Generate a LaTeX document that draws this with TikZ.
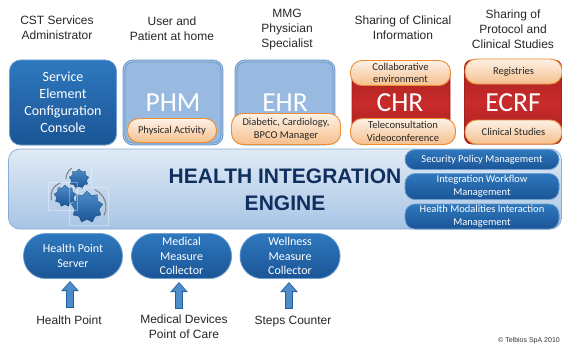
\documentclass[tikz,border=0pt]{standalone}
\usepackage{fontspec}
\setmainfont{Liberation Sans}
\newfontfamily\figBoxFont{Carlito}
\usetikzlibrary{arrows.meta, shapes.geometric, shadows}
\definecolor{figBlueTop}{HTML}{2F78BE}
\definecolor{figBlueLow}{HTML}{1A5596}
\definecolor{figPale}{HTML}{98BAE0}
\definecolor{figPaleEdge}{HTML}{6C98CB}
\definecolor{figRed}{HTML}{C92B2B}
\definecolor{figRedDark}{HTML}{A51F20}
\definecolor{figOrange}{HTML}{EE8C30}
\definecolor{figTitle}{HTML}{0F2F5E}
\newcommand{\figArrowOut}{{Triangle[length=10pt, width=17pt]}}
\newcommand{\figArrowIn}{{Triangle[length=8pt, width=13pt]}}
\tikzset{
	boxbase/.style={rectangle, inner sep=0pt, align=center},
	bluebox/.style={boxbase, rounded corners=11pt, top color=figBlueTop, bottom color=figBlueLow, draw=figBlueTop!70!white, line width=0.7pt, text=white, drop shadow={opacity=0.25, shadow xshift=0.5pt, shadow yshift=-0.7pt}},
	palebox/.style={boxbase, rounded corners=9pt, fill=figPale, draw=figPaleEdge, double=figPale!60!white, double distance=0.6pt, line width=1.1pt},
	redbox/.style={boxbase, top color=figRedDark, bottom color=figRedDark, middle color=figRed, draw=figRedDark, line width=0.6pt, rounded corners=7pt},
	orangebox/.style={boxbase, rounded corners=11.5pt, top color=figOrange!12!white, bottom color=figOrange!55!white, draw=figOrange, line width=0.9pt, text=black!85, drop shadow={opacity=0.3, shadow xshift=0.4pt, shadow yshift=-0.6pt}},
	pillbox/.style={bluebox, rounded corners=22pt},
	sidebox/.style={bluebox, rounded corners=10pt, minimum width=154pt},
	figLabel/.style={align=center, font=\fontsize{12}{15}\selectfont, text=black!85},
	gearstar/.style={star, star points=9, star point ratio=1.3, inner sep=0pt, top color=figBlueTop!85!white, bottom color=figBlueLow, draw=figBlueLow!70!black, line width=0.2pt},
	geararc/.style={gray, line width=1pt, line cap=round},
	gearframe/.style={white, opacity=0.35, line width=0.4pt},
}
\begin{document}
\begin{tikzpicture}[x=1pt, y=-1pt]
	\useasboundingbox (0,0) rectangle (562,345);
	\def\fontBig{\figBoxFont\fontsize{27.5}{27.5}\selectfont}
	\def\fontMid{\figBoxFont\fontsize{14}{17}\selectfont}
	\def\fontPill{\figBoxFont\fontsize{12}{14.6}\selectfont}
	\def\fontSmall{\figBoxFont\fontsize{10.5}{12.6}\selectfont}

	% headers
	\node[figLabel] (hdrCST) at (57,27.5) {CST Services\\Administrator};
	\node[figLabel] (hdrUser) at (172,28.5) {User and\\Patient at home};
	\node[figLabel] (hdrMMG) at (287,29.5) {MMG\\Physician\\Specialist};
	\node[figLabel] (hdrCHR) at (403,27.5) {Sharing of Clinical\\Information};
	\node[figLabel] (hdrECRF) at (513,29.5) {Sharing of\\Protocol and\\Clinical Studies};

	% top row
	\node[bluebox, minimum width=107pt, minimum height=85pt, font=\fontMid] (boxConsole) at (63,102.5) {Service\\Element\\Configuration\\Console};
	\node[palebox, minimum width=98pt, minimum height=83pt] (boxPHM) at (173,102.5) {};
	\node[palebox, minimum width=98pt, minimum height=83pt] (boxEHR) at (285,102.5) {};
	\node[redbox, minimum width=98pt, minimum height=70pt] (boxCHR) at (401,103) {};
	\node[redbox, minimum width=97pt, minimum height=84pt] (boxECRF) at (513,102) {};
	\node[font=\fontBig, text=white] (txtPHM) at (173,103) {PHM};
	\node[font=\fontBig, text=white] (txtEHR) at (285,103) {EHR};
	\node[font=\fontBig, text=white] (txtCHR) at (400,103) {CHR};
	\node[font=\fontBig, text=white] (txtECRF) at (513,103) {ECRF};

	\node[orangebox, minimum width=89pt, minimum height=24pt, font=\fontSmall] (oraPHM) at (172,130.5) {Physical Activity};
	\node[orangebox, minimum width=109pt, minimum height=31pt, font=\fontSmall] (oraEHR) at (286,129) {Diabetic, Cardiology,\\BPCO Manager};
	\node[orangebox, minimum width=100pt, minimum height=25pt, font=\fontSmall] (oraColl) at (400.5,73) {Collaborative\\environment};
	\node[orangebox, minimum width=105pt, minimum height=26pt, font=\fontSmall] (oraTele) at (403,131.5) {Teleconsultation\\Videoconference};
	\node[orangebox, minimum width=97pt, minimum height=25pt, font=\fontSmall] (oraReg) at (513.5,71.5) {Registries};
	\node[orangebox, minimum width=97pt, minimum height=24pt, font=\fontSmall] (oraClin) at (513.5,132) {Clinical Studies};

	% engine
	\node[rectangle, rounded corners=11pt, minimum width=553pt, minimum height=80pt, top color=figPale!30!white, bottom color=figPale!85!white, draw=figPaleEdge!80!white, line width=0.7pt] (engine) at (285,189) {};
	\node[font=\bfseries\fontsize{21}{26.5}\selectfont, text=figTitle, align=center] (engineTitle) at (285,190) {HEALTH INTEGRATION\\ENGINE};
	\node[sidebox, minimum height=20pt, font=\fontSmall] (sideSec) at (482,159.5) {Security Policy Management};
	\node[sidebox, minimum height=26pt, font=\fontSmall] (sideFlow) at (482,186.5) {Integration Workflow\\Management};
	\node[sidebox, minimum height=25pt, font=\fontSmall] (sideMod) at (482,216.5) {Health Modalities Interaction\\Management};

	% gears
	\node[gearstar, minimum size=20pt] (gearA) at (79,179) {};
	\node[gearstar, minimum size=22pt] (gearB) at (65,196) {};
	\node[gearstar, minimum size=32pt] (gearC) at (87,207) {};
	\draw[geararc] (gearA) ++(180:13) arc (180:235:13);
	\draw[geararc] (gearB) ++(165:14) arc (165:250:14);
	\draw[geararc] (gearC) ++(-65:19) arc (-65:25:19);
	\draw[gearframe] (48,182) rectangle (77,210);
	\draw[gearframe] (69,187) rectangle (108,225);
	\draw[gearframe] (91,168) -- (91,187);

	% bottom row
	\node[pillbox, minimum width=99pt, minimum height=45pt, font=\fontPill] (pillServer) at (73,256) {Health Point\\Server};
	\node[pillbox, minimum width=100pt, minimum height=45pt, font=\fontPill] (pillMedical) at (181.5,256) {Medical\\Measure\\Collector};
	\node[pillbox, minimum width=100pt, minimum height=45pt, font=\fontPill] (pillWellness) at (290,256) {Wellness\\Measure\\Collector};

	\node[figLabel] (lblPoint) at (69,320) {Health Point};
	\node[figLabel] (lblDevices) at (184,327) {Medical Devices\\Point of Care};
	\node[figLabel] (lblSteps) at (293,322) {Steps Counter};

	\coordinate (tailServer) at (70,308);
	\coordinate (tailMedical) at (179,309);
	\coordinate (tailWellness) at (289,309);
	\coordinate (tipServer) at (70,281);
	\coordinate (tipMedical) at (179,282);
	\coordinate (tipWellness) at (289,282);
	\foreach \name in {Server, Medical, Wellness} {
		\draw[-\figArrowOut, line width=8pt, figBlueLow!70!figBlueTop] (tail\name) -- (tip\name);
		\draw[-\figArrowIn, line width=6pt, figBlueTop!85!white, shorten >=1pt, shorten <=1pt] (tail\name) -- (tip\name);
	}

	\node[anchor=east, inner sep=0pt, font=\fontsize{7}{8}\selectfont, text=black!80] (copyright) at (560,341) {© Telbios SpA 2010};
\end{tikzpicture}
\end{document}
